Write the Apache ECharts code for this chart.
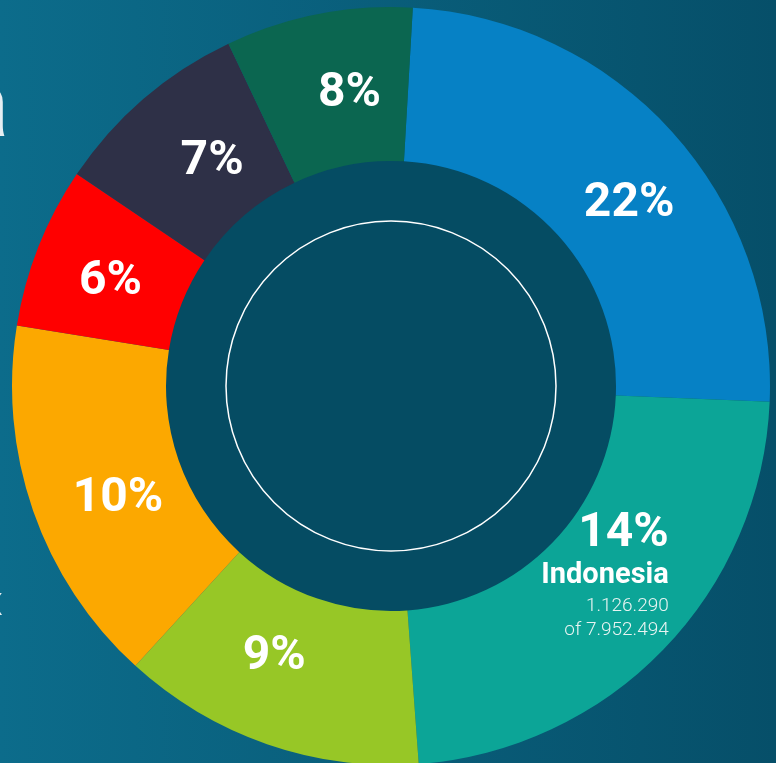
<!DOCTYPE html>
<html><head><meta charset="utf-8">
<script src="https://cdn.jsdelivr.net/npm/echarts@6/dist/echarts.min.js"></script>
<style>html,body{margin:0;padding:0;}#c{width:776px;height:763px;}</style>
</head><body><div id="c"></div>
<script>
// Slice sizes (angular share), printed labels, colours
const categories = ['A', 'Indonesia', 'C', 'D', 'E', 'F', 'G'];
const sliceValues = [89.1, 83.4, 46.6, 56.8, 24.8, 30.6, 28.7];
const percentLabels = ['22%', '14%', '9%', '10%', '6%', '7%', '8%'];
const colors = ['#0681c5', '#0ca597', '#97c726', '#fca800', '#ff0000', '#2e3047', '#0b6650'];
const labelOffsets = [[12, 23], [-5, -22], [-17, -17], [15, 13], [3, 8], [20, 7], [17, 7]];
const indoValue = '1.126.290';
const indoTotal = 'of 7.952.494';

const FONT = "'Roboto', sans-serif";
const chart = echarts.init(document.getElementById('c'), null, {renderer: 'canvas'});
const cx = 391, cy = 386;

const data = categories.map((c, i) => {
  const d = {name: c, value: sliceValues[i], itemStyle: {color: colors[i]},
    label: {offset: labelOffsets[i]}};
  if (c === 'Indonesia') {
    d.label = {offset: labelOffsets[i], align: 'right',
      formatter: '{p|' + percentLabels[i] + '}\n{n|Indonesia}\n{v|' + indoValue + '}\n{v|' + indoTotal + '}'};
  }
  return d;
});

chart.setOption({
  animation: false,
  backgroundColor: {type: 'linear', x: 0, y: 0, x2: 1, y2: 0,
    colorStops: [{offset: 0, color: '#0c6c8b'}, {offset: 1, color: '#064f69'}]},
  graphic: [
    {type: 'circle', shape: {cx: cx, cy: cy, r: 226}, style: {fill: '#054c63'}, z: 0},
    {type: 'circle', shape: {cx: cx, cy: cy, r: 165}, style: {fill: 'none', stroke: '#ffffff', lineWidth: 1.5}, z: 1},
    {type: 'text', x: 10, y: 113, style: {text: 'a', font: '300 92px Roboto', fill: '#e6eef2', align: 'right', verticalAlign: 'middle'}, z: 1},
    {type: 'text', x: 3, y: 605, style: {text: 'x', font: '300 40px Roboto', fill: '#e6eef2', align: 'right', verticalAlign: 'middle'}, z: 1}
  ],
  series: [{
    type: 'pie',
    center: [cx, cy],
    radius: [225, 379],
    startAngle: 86.7,
    clockwise: true,
    avoidLabelOverlap: false,
    silent: true,
    itemStyle: {borderWidth: 0},
    label: {
      show: true, position: 'inside', color: '#ffffff',
      fontFamily: FONT, fontWeight: 'bold', fontSize: 48,
      formatter: (p) => percentLabels[p.dataIndex],
      rich: {
        p: {fontFamily: FONT, fontWeight: 'bold', fontSize: 48, lineHeight: 46, color: '#fff', align: 'right'},
        n: {fontFamily: FONT, fontWeight: 'bold', fontSize: 29, lineHeight: 37, color: '#fff', align: 'right'},
        v: {fontFamily: FONT, fontWeight: 300, fontSize: 19, lineHeight: 24, color: '#e8f4f2', align: 'right'}
      }
    },
    labelLine: {show: false},
    data: data
  }]
});
</script></body></html>
